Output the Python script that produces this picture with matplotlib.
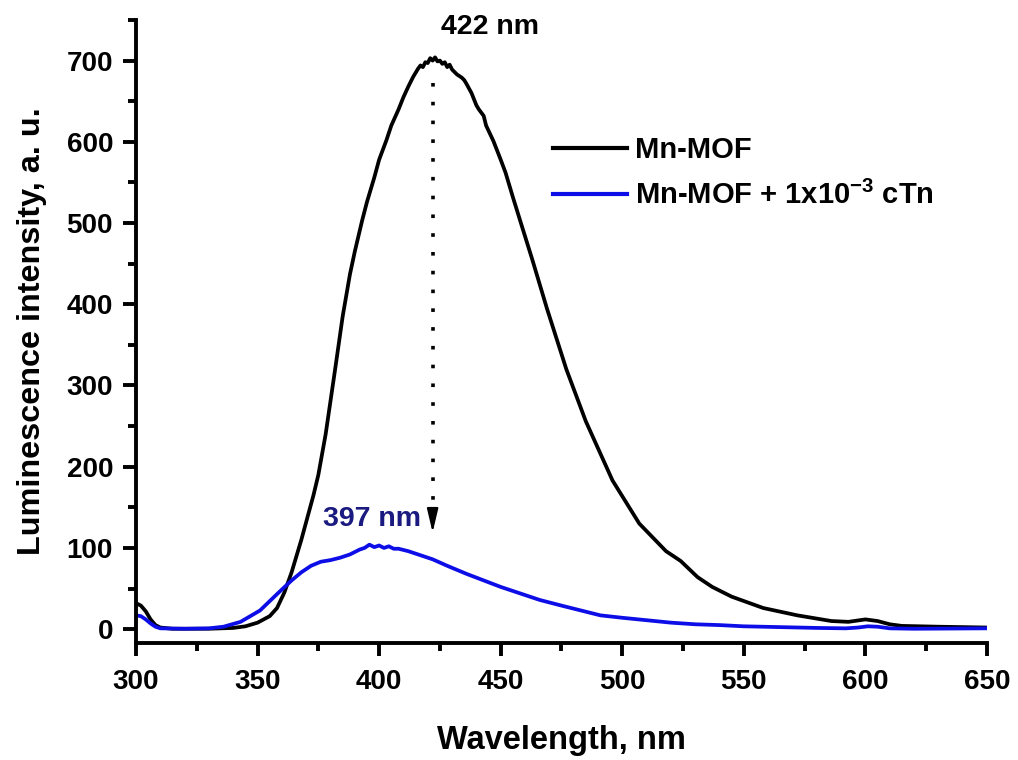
import matplotlib
matplotlib.use("Agg")
import matplotlib.pyplot as plt
from matplotlib.ticker import MultipleLocator

plt.rcParams['font.family'] = ['Liberation Sans', 'DejaVu Sans']
plt.rcParams['font.weight'] = 'bold'
plt.rcParams['mathtext.fontset'] = 'custom'
plt.rcParams['mathtext.rm'] = 'Liberation Sans:bold'
plt.rcParams['mathtext.bf'] = 'Liberation Sans:bold'

# Mn-MOF (black)
wl_mof = [300, 302, 304, 306, 308, 310, 315, 320, 330, 340, 345, 350, 355, 358,
          361, 364, 366, 368, 370, 373, 375, 378, 382, 385, 388, 390, 393,
          395, 398, 400, 403, 405, 408, 410, 412, 414, 416, 417, 418, 419, 420,
          421, 422, 423, 424, 425, 426, 427, 428, 429, 430, 432, 434, 435, 436,
          438, 440, 441, 443, 444, 447, 450, 452, 455, 458, 463, 469, 477, 485,
          496, 507, 518, 524, 531, 537, 545, 558, 572, 586, 593, 600, 605, 610,
          615, 630, 650]
int_mof = [32, 29, 22, 12, 5, 2, 0.5, 0.5, 0.5, 1.5, 3.5, 8, 16, 26,
           45, 70, 90, 110, 132, 165, 190, 240, 322, 385, 437, 465, 503,
           526, 556, 578, 602, 620, 640, 655, 668, 680, 690, 694, 692, 698, 697,
           703, 700, 704, 699, 700, 696, 698, 692, 695, 689, 683, 679, 676, 671,
           660, 645, 640, 632, 620, 601, 578, 562, 532, 503, 455, 395, 320, 256,
           183, 130, 96, 84, 64, 52, 40, 26, 17, 10, 9, 12, 10, 6,
           4, 3, 2]

# Mn-MOF + 1x10^-3 cTn (blue)
wl_ctn = [300, 302, 304, 306, 308, 310, 320, 330, 336, 343, 351, 359, 364, 368,
          372, 376, 380, 384, 388, 392, 394, 396, 398, 400, 402, 404, 406, 408,
          412, 418, 422, 428, 436, 443, 450, 458, 466, 475, 483, 491, 500, 510,
          520, 530, 540, 550, 565, 580, 592, 597, 601, 605, 610, 620, 650]
int_ctn = [17, 16, 12, 7, 3, 1, 0.5, 1, 3, 9, 23, 46, 60, 70,
           78, 83, 85, 88, 92, 98, 100, 104, 101, 103, 100, 102, 99, 99,
           96, 90, 86, 78, 68, 60, 52, 44, 36, 29, 23, 17, 14, 11,
           8, 6, 5, 3.5, 2.5, 1.5, 1, 2, 3.5, 3, 1, 0.5, 1]

peak_mof = 422
peak_ctn = 397
x_ticks = [300, 350, 400, 450, 500, 550, 600, 650]
y_ticks = [0, 100, 200, 300, 400, 500, 600, 700]

fig = plt.figure(figsize=(10.18, 7.6), dpi=100)
ax = fig.add_axes([0.1336, 0.154, 0.8359, 0.8197])

ax.plot(wl_mof, int_mof, color='black', lw=2.7, label='Mn-MOF')
ax.plot(wl_ctn, int_ctn, color='#0d0de8', lw=2.7,
        label='Mn-MOF + 1x10$^{-3}$ cTn')

# dotted marker line from the black peak down to the blue band
ax.plot([peak_mof, peak_mof], [672, 132], color='black', lw=2.6,
        linestyle=(0, (1, 4.2)), dash_capstyle='butt')
ax.annotate('', xy=(peak_mof, 119), xytext=(peak_mof, 140),
            arrowprops=dict(arrowstyle='-|>,head_length=0.72,head_width=0.17',
                            color='black', lw=1.5, mutation_scale=20,
                            shrinkA=0, shrinkB=0))
ax.text(445.5, 741, f'{peak_mof} nm', ha='center', va='center',
        fontsize=20.5, fontweight='bold', color='black')
ax.text(397.2, 136, f'{peak_ctn} nm', ha='center', va='center',
        fontsize=20.5, fontweight='bold', color='#1a1a80')

ax.set_xlim(300, 650)
ax.set_ylim(-17, 750)
ax.set_xticks(x_ticks)
ax.set_yticks(y_ticks)
ax.xaxis.set_minor_locator(MultipleLocator(25))
ax.yaxis.set_minor_locator(MultipleLocator(50))

for side in ['top', 'right']:
    ax.spines[side].set_visible(False)
for side in ['bottom', 'left']:
    ax.spines[side].set_linewidth(2.8)

ax.tick_params(axis='both', which='major', direction='out', length=9.5,
               width=2.8, labelsize=20, pad=7)
ax.tick_params(axis='x', which='major', pad=9)
ax.tick_params(axis='both', which='minor', direction='out', length=6,
               width=2.8)
for lab in ax.get_xticklabels() + ax.get_yticklabels():
    lab.set_fontweight('bold')

ax.set_xlabel('Wavelength, nm', fontsize=23.5, fontweight='bold', labelpad=22)
ax.set_ylabel('Luminescence intensity, a. u.', fontsize=23.3,
              fontweight='bold', labelpad=14)

leg = ax.legend(loc='upper left', bbox_to_anchor=(0.5432, 0.8213),
                bbox_transform=fig.transFigure, frameon=False,
                fontsize=21, handlelength=2.55, handletextpad=0.25,
                labelspacing=0.58, borderaxespad=0, borderpad=0)
for line in leg.get_lines():
    line.set_linewidth(3)

fig.savefig('out.png', dpi=100)
